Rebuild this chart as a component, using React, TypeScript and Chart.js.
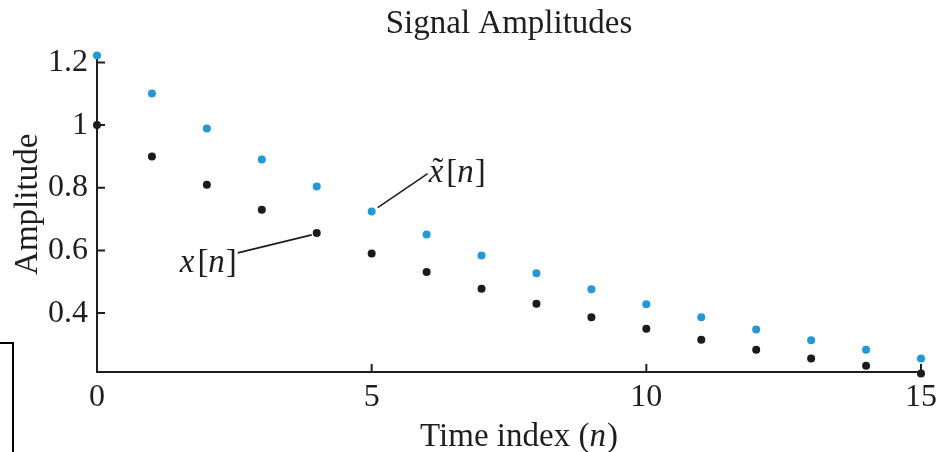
import React, { useEffect, useRef } from 'react';
import { Chart, registerables } from 'chart.js';

Chart.register(...registerables);

// ---- data ----
const timeIndex = [0, 1, 2, 3, 4, 5, 6, 7, 8, 9, 10, 11, 12, 13, 14, 15];
const xSignal = [1.0, 0.9, 0.81, 0.73, 0.656, 0.59, 0.531, 0.478, 0.43, 0.387, 0.35, 0.315, 0.283, 0.255, 0.232, 0.207];
const xTildeSignal = [1.222, 1.101, 0.989, 0.89, 0.804, 0.724, 0.651, 0.584, 0.527, 0.476, 0.428, 0.387, 0.348, 0.313, 0.283, 0.255];
const xTickValues = [0, 5, 10, 15];
const yTickValues = [0.4, 0.6, 0.8, 1, 1.2];
const chartTitle = 'Signal Amplitudes';
const yAxisTitle = 'Amplitude';
const Y_MIN = 0.212;
const Y_MAX = 1.225;

const FONT = '"Liberation Serif", "Times New Roman", serif';
const TEXT = '#1f1d22';
const BLUE = '#1f9ad6';
const BLACK = '#1b1b1b';

type Part = { t: string; italic: boolean; gap?: number };

function drawParts(ctx: CanvasRenderingContext2D, parts: Part[], x: number, y: number, size: number, tildeOnFirst = false) {
  let cx = x;
  ctx.textBaseline = 'alphabetic';
  ctx.textAlign = 'left';
  parts.forEach((p, i) => {
    ctx.font = `${p.italic ? 'italic ' : ''}${size}px ${FONT}`;
    const w = ctx.measureText(p.t).width;
    ctx.fillText(p.t, cx, y);
    if (i === 0 && tildeOnFirst) {
      ctx.font = `${size}px ${FONT}`;
      ctx.textAlign = 'center';
      ctx.fillText('\u02DC', cx + w / 2 + 2, y - 1);
      ctx.textAlign = 'left';
    }
    cx += w + (p.gap || 0);
  });
}

const decorPlugin = {
  id: 'decor',
  afterDraw(chart: any) {
    const ctx: CanvasRenderingContext2D = chart.ctx;
    const xs = chart.scales.x;
    const ys = chart.scales.y;
    const area = chart.chartArea;
    ctx.save();
    // inward tick marks
    ctx.strokeStyle = TEXT;
    ctx.lineWidth = 2;
    ctx.beginPath();
    xs.ticks.forEach((t: any) => {
      const px = xs.getPixelForValue(t.value);
      ctx.moveTo(px, area.bottom);
      ctx.lineTo(px, area.bottom - 8);
    });
    ys.ticks.forEach((t: any) => {
      const py = ys.getPixelForValue(t.value);
      ctx.moveTo(area.left, py);
      ctx.lineTo(area.left + 8, py);
    });
    ctx.stroke();

    // annotations
    ctx.fillStyle = TEXT;
    ctx.strokeStyle = TEXT;
    ctx.lineWidth = 1.6;
    const bx = xs.getPixelForValue(timeIndex[5]);
    const by = ys.getPixelForValue(xTildeSignal[5]);
    ctx.beginPath();
    ctx.moveTo(bx + 6, by - 4);
    ctx.lineTo(bx + 56, by - 38);
    ctx.stroke();
    drawParts(ctx, [
      { t: 'x', italic: true, gap: 3 },
      { t: '[', italic: false },
      { t: 'n', italic: true, gap: 1 },
      { t: ']', italic: false },
    ], bx + 57, by - 30, 33, true);

    const kx = xs.getPixelForValue(timeIndex[4]);
    const ky = ys.getPixelForValue(xSignal[4]);
    ctx.beginPath();
    ctx.moveTo(kx - 5, ky + 2);
    ctx.lineTo(kx - 79, ky + 20);
    ctx.stroke();
    drawParts(ctx, [
      { t: 'x', italic: true, gap: 3 },
      { t: '[', italic: false },
      { t: 'n', italic: true, gap: 1 },
      { t: ']', italic: false },
    ], kx - 137, ky + 39, 33);

    // x axis title with italic n
    const parts: Part[] = [
      { t: 'Time index (', italic: false },
      { t: 'n', italic: true, gap: 1 },
      { t: ')', italic: false },
    ];
    let total = 0;
    parts.forEach((p) => {
      ctx.font = `${p.italic ? 'italic ' : ''}33px ${FONT}`;
      total += ctx.measureText(p.t).width + (p.gap || 0);
    });
    const cx = (area.left + area.right) / 2 + 10 - total / 2;
    drawParts(ctx, parts, cx, xs.bottom - 6, 33);

    // y axis title
    ctx.save();
    ctx.font = `33px ${FONT}`;
    ctx.textAlign = 'center';
    ctx.textBaseline = 'middle';
    ctx.translate(ys.left + 28, (area.top + area.bottom) / 2 - 9);
    ctx.rotate(-Math.PI / 2);
    ctx.fillText(yAxisTitle, 0, 0);
    ctx.restore();

    ctx.restore();
  },
};

export default function App() {
  const ref = useRef<HTMLCanvasElement | null>(null);

  useEffect(() => {
    document.body.style.margin = '0';
    const canvas = ref.current;
    if (!canvas) return;
    Chart.defaults.font.family = FONT;
    Chart.defaults.color = TEXT;

    const chart = new Chart(canvas, {
      type: 'scatter',
      data: {
        datasets: [
          {
            label: 'x~[n]',
            data: timeIndex.map((n, i) => ({ x: n, y: xTildeSignal[i] })),
            backgroundColor: BLUE,
            borderColor: BLUE,
            pointRadius: 4,
            borderWidth: 0,
            clip: false as any,
          },
          {
            label: 'x[n]',
            data: timeIndex.map((n, i) => ({ x: n, y: xSignal[i] })),
            backgroundColor: BLACK,
            borderColor: BLACK,
            pointRadius: 4,
            borderWidth: 0,
            clip: false as any,
          },
        ],
      },
      options: {
        animation: false,
        responsive: false,
        layout: { padding: { left: 0, right: 18, top: 0, bottom: 0 } },
        plugins: {
          legend: { display: false },
          tooltip: { enabled: false },
          title: {
            display: true,
            text: chartTitle,
            fullSize: false,
            color: TEXT,
            font: { size: 33, weight: 'normal', family: FONT },
            padding: { top: 5, bottom: 10 },
          },
        },
        scales: {
          x: {
            type: 'linear',
            min: 0,
            max: 15,
            afterBuildTicks: (s: any) => {
              s.ticks = xTickValues.map((v) => ({ value: v }));
            },
            afterFit: (s: any) => {
              s.height = 80;
              s.paddingLeft = 0;
              s.paddingRight = 0;
            },
            grid: { display: true, drawOnChartArea: false, drawTicks: false },
            border: { display: true, color: TEXT, width: 2 },
            ticks: {
              padding: 6,
              color: TEXT,
              font: { size: 32, family: FONT },
              maxRotation: 0,
              callback: (v: any) => String(v),
            },
          },
          y: {
            type: 'linear',
            min: Y_MIN,
            max: Y_MAX,
            afterBuildTicks: (s: any) => {
              s.ticks = yTickValues.map((v) => ({ value: v }));
            },
            afterFit: (s: any) => {
              s.width = 97;
              s.paddingTop = 0;
              s.paddingBottom = 0;
            },
            grid: { display: true, drawOnChartArea: false, drawTicks: false },
            border: { display: true, color: TEXT, width: 2 },
            ticks: {
              padding: 9,
              color: TEXT,
              font: { size: 32, family: FONT },
              callback: (v: any) => String(v),
            },
          },
        },
      },
      plugins: [decorPlugin],
    });
    return () => chart.destroy();
  }, []);

  return (
    <div style={{ position: 'relative', width: 939, height: 452, overflow: 'hidden', background: '#fff' }}>
      <canvas ref={ref} width={939} height={452} style={{ display: 'block' }} />
      <div
        style={{
          position: 'absolute',
          left: 0,
          top: 342,
          width: 12,
          height: 120,
          borderTop: '2px solid #000',
          borderRight: '2px solid #000',
        }}
      />
    </div>
  );
}
